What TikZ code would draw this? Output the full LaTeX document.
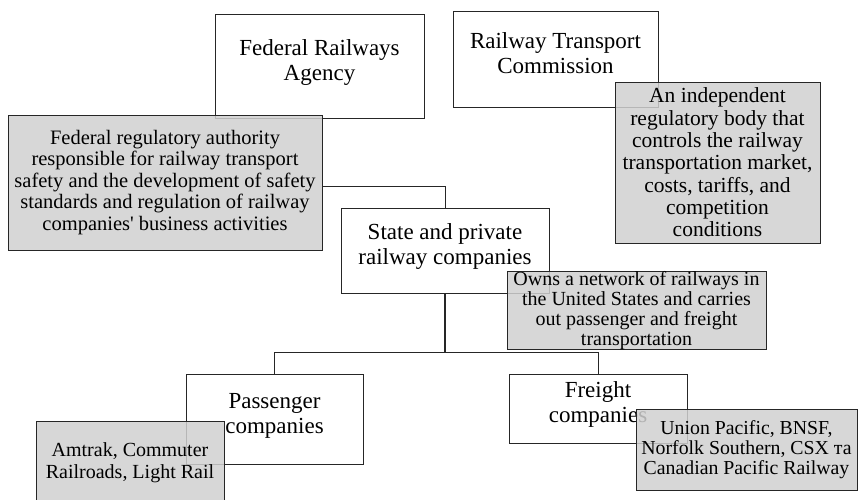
\documentclass[tikz,border=0pt]{standalone}
\usepackage{fontspec}
\setmainfont{Liberation Serif}
\definecolor{boxgray}{RGB}{208,208,208}
\definecolor{edge}{RGB}{38,38,38}
\newcommand\liftup{\rule[-12pt]{0pt}{12pt}}
\begin{document}
\begin{tikzpicture}[x=1pt,y=-1pt,
  mainbox/.style={draw=edge, line width=1pt, fill=white, align=center, inner sep=0pt,
    font=\fontsize{23}{25}\selectfont},
  notebox/.style={draw=edge, line width=1pt, fill=boxgray, fill opacity=0.85, text opacity=1,
    align=center, inner sep=0pt},
  link/.style={draw=edge, line width=1pt}]
\useasboundingbox (0,0) rectangle (858,499);
\clip (0,0) rectangle (858,499);
% main boxes
\node[mainbox, minimum width=209pt, minimum height=104pt] (fra) at (319.5,66) {Federal Railways\\Agency\liftup};
\node[mainbox, minimum width=205pt, minimum height=96pt] (rtc) at (555.5,59) {Railway Transport\\Commission\liftup};
\node[mainbox, minimum width=208pt, minimum height=85pt] (state) at (445,250.5) {State and private\\railway companies\liftup};
\node[mainbox, minimum width=177pt, minimum height=90pt] (pass) at (274.5,419) {Passenger\\companies\liftup};
\node[mainbox, minimum width=178pt, minimum height=69pt] (fr) at (598,408.5) {Freight\\companies\liftup};
% connectors
\coordinate (bus) at (445,352);
\draw[link] (8+314,186) coordinate (g1out) -| (state.north);
\draw[link, line width=1.6pt] (state.south) -- (bus);
\draw[link] (pass.north) |- (bus) -| (fr.north);
% note boxes
\node[notebox, minimum width=314pt, minimum height=135pt, font=\fontsize{20.5}{21.5}\selectfont] (g1) at (165,182.5)
  {Federal regulatory authority\\responsible for railway transport\\safety and the development of safety\\standards and regulation of railway\\companies\textquotesingle{} business activities};
\node[notebox, minimum width=205pt, minimum height=161pt, font=\fontsize{21.5}{22.3}\selectfont] (g2) at (717.5,162.5)
  {An independent\\regulatory body that\\controls the railway\\transportation market,\\costs, tariffs, and\\competition\\conditions};
\node[notebox, minimum width=259pt, minimum height=77pt, font=\fontsize{20}{20}\selectfont] (g3) at (636.5,310.5)
  {Owns a network of railways in\\the United States and carries\\out passenger and freight\\transportation};
\node[notebox, minimum width=188pt, minimum height=84pt, font=\fontsize{20}{22}\selectfont] (g4) at (130,463)
  {Amtrak, Commuter\\Railroads, Light Rail};
\node[notebox, minimum width=221pt, minimum height=81pt, font=\fontsize{19.8}{20}\selectfont] (g5) at (746.5,449.5)
  {Union Pacific, BNSF,\\Norfolk Southern, CSX та\\Canadian Pacific Railway};
\end{tikzpicture}
\end{document}
